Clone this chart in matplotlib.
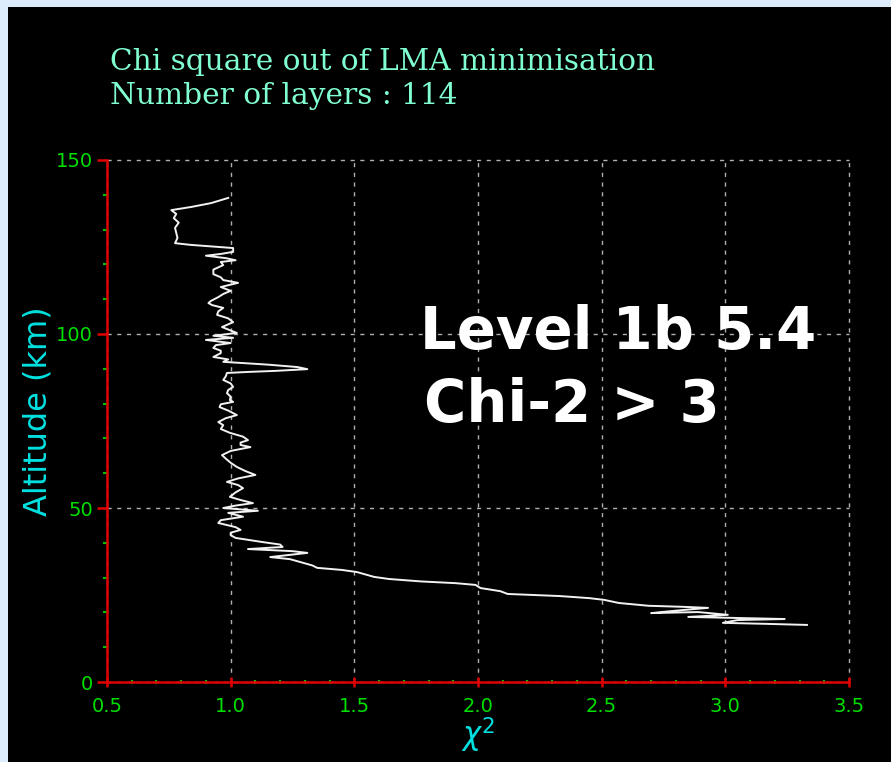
import matplotlib.pyplot as plt
from matplotlib.patches import Rectangle

# Profile: altitude (km) and chi square
altitude_km = [139.1, 137.6, 136.5, 135.6, 134.5, 133.3, 132.0, 130.5, 129.0, 127.6,
               126.1, 125.6, 125.0, 124.7, 123.6, 123.0, 122.5, 121.8, 121.2, 120.7,
               119.8, 118.5, 117.2, 116.3, 115.5, 114.7, 113.5, 112.4, 111.5, 110.6,
               109.5, 108.9, 108.3, 107.5, 106.5, 105.5, 104.5, 103.4, 102.0, 101.0,
               100.3, 99.5, 98.9, 98.3, 97.4, 96.8, 96.0, 95.2, 94.5, 93.4,
               92.7, 92.0, 91.2, 90.5, 89.9, 89.4, 89.1, 88.8, 87.8, 86.8,
               85.8, 84.8, 83.9, 83.0, 82.0, 81.0, 80.5, 79.8, 79.0, 78.0,
               76.7, 75.8, 74.7, 73.8, 72.7, 71.6, 70.5, 69.5, 68.8, 68.1,
               67.5, 66.4, 65.2, 64.2, 63.0, 61.8, 60.6, 59.5, 58.5, 57.5,
               56.6, 55.7, 54.5, 53.2, 52.3, 51.4, 50.7, 50.0, 49.2, 48.6,
               47.5, 46.5, 45.7, 44.5, 43.7, 42.9, 42.2, 41.4, 40.2, 39.5,
               38.8, 38.2, 37.6, 37.1, 35.9, 35.3, 34.5, 33.5, 32.8, 32.2,
               31.6, 30.2, 29.6, 28.9, 28.4, 27.9, 27.0, 26.1, 25.3, 24.7,
               24.1, 23.6, 22.7, 21.9, 21.6, 21.3, 20.5, 19.8, 20.1, 19.3,
               18.7, 18.1, 17.8, 17.0, 16.7, 16.4]
chi2 = [0.99, 0.92, 0.84, 0.76, 0.78, 0.77, 0.79, 0.775, 0.78, 0.785,
        0.775, 0.84, 0.95, 1.01, 1.01, 0.96, 0.90, 0.98, 1.02, 0.96,
        0.97, 0.93, 0.93, 0.96, 0.97, 1.03, 0.96, 1.00, 0.97, 0.95,
        0.92, 0.91, 0.925, 0.97, 0.95, 0.945, 0.99, 1.01, 0.965, 1.00,
        1.025, 0.93, 1.01, 0.90, 1.00, 0.94, 0.93, 0.96, 0.96, 0.93,
        0.99, 0.97, 1.15, 1.27, 1.31, 1.18, 1.07, 0.985, 0.98, 0.97,
        1.00, 1.01, 0.99, 0.985, 1.00, 0.997, 1.01, 0.96, 0.955, 0.99,
        1.025, 0.98, 0.95, 0.97, 0.96, 0.997, 1.05, 1.07, 1.04, 1.04,
        1.08, 1.00, 0.965, 0.98, 1.00, 1.025, 1.06, 1.10, 1.03, 0.985,
        1.03, 1.05, 1.02, 0.997, 1.04, 1.09, 1.02, 0.97, 1.11, 0.99,
        1.05, 0.96, 0.95, 1.02, 1.04, 1.00, 1.00, 1.02, 1.13, 1.20,
        1.21, 1.07, 1.25, 1.31, 1.16, 1.24, 1.28, 1.33, 1.35, 1.45,
        1.51, 1.58, 1.64, 1.77, 1.91, 1.99, 2.01, 2.09, 2.12, 2.33,
        2.45, 2.51, 2.57, 2.69, 2.83, 2.93, 2.80, 2.70, 2.89, 3.01,
        2.85, 3.24, 3.05, 2.99, 3.17, 3.33]

x_ticks = [0.5, 1.0, 1.5, 2.0, 2.5, 3.0, 3.5]
y_ticks = [0, 50, 100, 150]

W, H = 891, 762
fig = plt.figure(figsize=(W / 100, H / 100), dpi=100, facecolor='#dcecfb')
# black panel behind everything
fig.patches.append(Rectangle((8 / W, 0), 1, 1 - 7 / H, transform=fig.transFigure,
                             facecolor='black', edgecolor='none', zorder=-10))

ax = fig.add_axes([107 / W, 1 - 682 / H, (849 - 107) / W, (682 - 160) / H])
ax.set_zorder(5)
ax.set_facecolor('black')
ax.plot(chi2, altitude_km, color='#f2f2f2', lw=1.4)

ax.set_xlim(0.5, 3.5)
ax.set_ylim(0, 150)
ax.set_xticks(x_ticks)
ax.set_xticklabels(['%.1f' % v for v in x_ticks])
ax.set_yticks(y_ticks)
ax.set_xticks([0.5 + 0.1 * i for i in range(31)], minor=True)
ax.set_yticks(range(0, 151, 10), minor=True)

for s in ['top', 'right']:
    ax.spines[s].set_visible(False)
for s in ['left', 'bottom']:
    ax.spines[s].set_color('#e00000')
    ax.spines[s].set_linewidth(1.8)

ax.grid(True, which='major', color='#b0b0b0', linestyle=(0, (3, 4)), lw=1.0)
for gl in ax.get_xgridlines() + ax.get_ygridlines():
    gl.set_clip_on(False)
ax.tick_params(which='major', colors='#e00000', length=7, width=1.8,
               labelcolor='#00e000', labelsize=14)
ax.tick_params(axis='x', which='major', direction='inout', pad=7)
ax.tick_params(axis='y', which='major', direction='out', pad=3)
ax.tick_params(which='minor', colors='#00c000', length=3, width=1.5)
ax.tick_params(axis='x', which='minor', direction='inout')
ax.tick_params(axis='y', which='minor', direction='out')

# titles
fig.text(110 / W, 1 - 62 / H, 'Chi square out of LMA minimisation', family='DejaVu Serif',
         fontsize=21.3, color='#80ffd0', va='center', ha='left')
fig.text(110 / W, 1 - 96 / H, 'Number of layers : 114', family='DejaVu Serif',
         fontsize=21.3, color='#80ffd0', va='center', ha='left')

# axis labels
fig.text(38 / W, 1 - 411 / H, 'Altitude (km)', rotation=90, fontsize=23,
         color='#00e0e0', ha='center', va='center')
fig.text(478 / W, 1 - 735 / H, r'$\chi^2$', fontsize=22, color='#00e0e0',
         ha='center', va='center')

# annotation, drawn above the axes
fig.text(420 / W, 1 - 333 / H, 'Level 1b 5.4', fontsize=41.5, fontweight='bold',
         color='white', ha='left', va='center', zorder=20)
fig.text(424 / W, 1 - 405 / H, 'Chi-2 > 3', fontsize=41.5, fontweight='bold',
         color='white', ha='left', va='center', zorder=20)

fig.savefig('out.png', dpi=100, facecolor=fig.get_facecolor())
